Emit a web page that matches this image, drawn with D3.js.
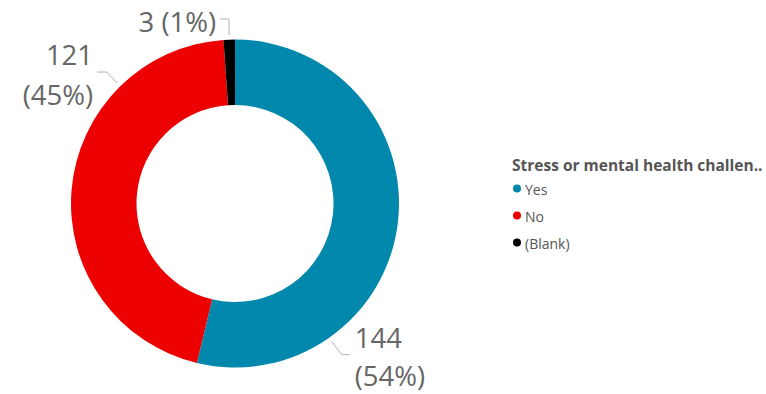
<!DOCTYPE html>
<html>
<head>
<meta charset="utf-8">
<script src="https://cdn.jsdelivr.net/npm/d3@7"></script>
<style>
  html, body { margin: 0; padding: 0; background: #ffffff; }
  svg { display: block; }
</style>
</head>
<body>
<svg id="chart" width="766" height="394"></svg>
<script>
// Survey answers: "Stress or mental health challenges"
const categories = ["Yes", "No", "(Blank)"];
const counts = [144, 121, 3];
const colors = ["#0388AD", "#EC0000", "#000000"];
const legendTitle = "Stress or mental health challen..";

const svg = d3.select("#chart");

const cx = 235, cy = 203.5;
const outerR = 164, innerR = 98.5;

const total = d3.sum(counts);
const data = categories.map((c, i) => ({ category: c, value: counts[i], color: colors[i] }));

const pie = d3.pie().value(d => d.value).sort(null).startAngle(0).endAngle(2 * Math.PI);
const arc = d3.arc().innerRadius(innerR).outerRadius(outerR);
const arcs = pie(data);

const g = svg.append("g").attr("transform", `translate(${cx},${cy})`);

g.selectAll("path.slice")
  .data(arcs)
  .join("path")
  .attr("class", "slice")
  .attr("d", arc)
  .attr("fill", d => d.data.color);

// Data labels with leader lines
const pct = d3.format(".0%");
const labelFont = "'Open Sans', 'Noto Sans', sans-serif";
const labelColor = "#666666";
const lineColor = "#b3b3b3";

// Where each leader line leaves the ring and how it bends
const labelLayout = {
  "Yes":     { angle: 145 * Math.PI / 180, bend: [10, 13], run: 8,  side: "right", lines: 2, gap: 31 },
  "No":      { angle: 315.6 * Math.PI / 180, bend: [-10, -11], run: -10, side: "left", lines: 2, gap: 33 },
  "(Blank)": { angle: null, bend: [0, -16], run: -9, side: "left", lines: 1 }
};

const leaderR = outerR + 4.6;

arcs.forEach(a => {
  const L = labelLayout[a.data.category];
  const ang = L.angle === null ? (a.startAngle + a.endAngle) / 2 : L.angle;
  const x0 = leaderR * Math.sin(ang);
  const y0 = -leaderR * Math.cos(ang);
  const x1 = x0 + L.bend[0];
  const y1 = y0 + L.bend[1];
  const x2 = x1 + L.run;
  const y2 = y1;

  g.append("polyline")
    .attr("points", [[x0, y0], [x1, y1], [x2, y2]].map(p => p.join(",")).join(" "))
    .attr("fill", "none")
    .attr("stroke", lineColor)
    .attr("stroke-width", 1);

  const countText = String(a.data.value);
  const pctText = "(" + pct(a.data.value / total) + ")";
  const anchor = L.side === "right" ? "start" : "end";
  const tx = L.side === "right" ? x2 + 5 : x2 - 4;

  const t = g.append("text")
    .attr("font-family", labelFont)
    .attr("font-size", 27.5)
    .attr("fill", labelColor)
    .attr("text-anchor", anchor);

  if (L.lines === 2) {
    t.append("tspan").attr("x", tx).attr("y", y2 - 7).text(countText);
    t.append("tspan").attr("x", tx).attr("y", y2 + L.gap).text(pctText);
  } else {
    t.append("tspan").attr("x", tx).attr("y", y2 + 12.5).text(countText + " " + pctText);
  }
});

// Legend
const legend = svg.append("g").attr("transform", "translate(512,0)");

legend.append("text")
  .attr("x", 0)
  .attr("y", 171)
  .attr("font-family", labelFont)
  .attr("font-weight", "bold")
  .attr("font-size", 15.5)
  .attr("fill", "#555555")
  .text(legendTitle);

const item = legend.selectAll("g.item")
  .data(data)
  .join("g")
  .attr("class", "item")
  .attr("transform", (d, i) => `translate(0,${188.5 + i * 27})`);

item.append("circle")
  .attr("cx", 5)
  .attr("cy", 0)
  .attr("r", 4)
  .attr("fill", d => d.color);

item.append("text")
  .attr("x", 13)
  .attr("y", 6)
  .attr("font-family", labelFont)
  .attr("font-size", 14)
  .attr("fill", "#555555")
  .text(d => d.category);
</script>
</body>
</html>
